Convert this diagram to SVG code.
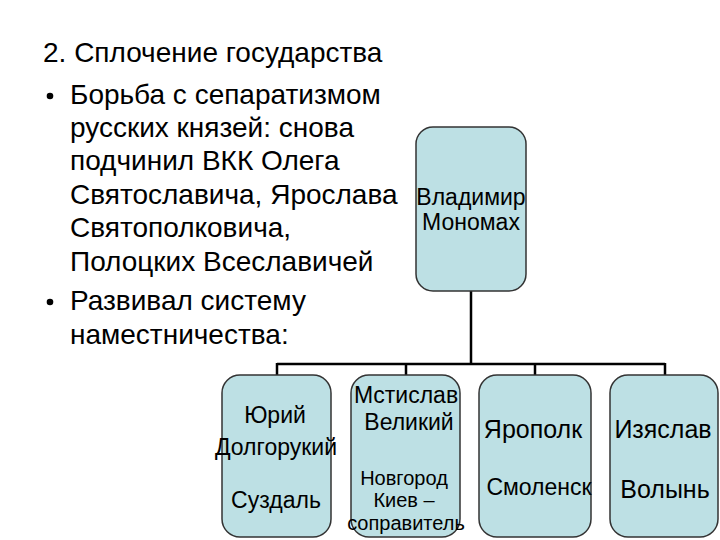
<svg xmlns="http://www.w3.org/2000/svg" width="720" height="540" viewBox="0 0 720 540">
<style>
.t{font-family:"Liberation Sans",Arial,sans-serif;fill:#000}
.body{font-size:28px}
.n{font-size:23px;text-anchor:middle}
.b{font-size:25px;text-anchor:middle}
.s{font-size:20px;text-anchor:middle}
.box{fill:#bde0e4;stroke:#333;stroke-width:1.5}
.c{fill:none;stroke:#000;stroke-width:2.5}
</style>
<rect width="720" height="540" fill="#fff"/>
<g id="text" class="t body">
<text x="43" y="62">2. Сплочение государства</text>
<circle cx="50" cy="96" r="3.3" fill="#000"/>
<text x="70" y="104">Борьба с сепаратизмом</text>
<text x="70" y="137">русских князей: снова</text>
<text x="70" y="170">подчинил ВКК Олега</text>
<text x="70" y="203.5">Святославича, Ярослава</text>
<text x="70" y="237">Святополковича,</text>
<text x="70" y="270.5">Полоцких Всеславичей</text>
<circle cx="50" cy="302" r="3.3" fill="#000"/>
<text x="70" y="310">Развивал систему</text>
<text x="70" y="343.5">наместничества:</text>
</g>
<g id="connectors">
<path class="c" d="M471 291V364M277 364H665M277 363V375M406 363V375M535 363V375M665 363V375"/>
</g>
<g id="vladimir">
<rect class="box" x="416" y="127" width="110" height="164" rx="17"/>
<text class="t n" x="471" y="205">Владимир</text>
<text class="t n" x="471" y="230">Мономах</text>
</g>
<g id="yuri">
<rect class="box" x="222" y="375" width="109" height="162" rx="18"/>
<text class="t n" x="275" y="423">Юрий</text>
<text class="t n" x="276" y="455">Долгорукий</text>
<text class="t n" x="276" y="508">Суздаль</text>
</g>
<g id="mstislav">
<rect class="box" x="351" y="375" width="109" height="162" rx="18"/>
<text class="t n" x="406" y="403">Мстислав</text>
<text class="t n" x="409" y="430">Великий</text>
<text class="t s" x="404" y="485">Новгород</text>
<text class="t s" x="404" y="507">Киев –</text>
<text class="t s" x="406" y="530">соправитель</text>
</g>
<g id="yaropolk">
<rect class="box" x="479" y="375" width="112" height="162" rx="18"/>
<text class="t b" x="533" y="438">Ярополк</text>
<text class="t n" x="539" y="495">Смоленск</text>
</g>
<g id="izyaslav">
<rect class="box" x="610" y="375" width="108" height="162" rx="18"/>
<text class="t b" x="663" y="438">Изяслав</text>
<text class="t b" x="665" y="498">Волынь</text>
</g>
</svg>
